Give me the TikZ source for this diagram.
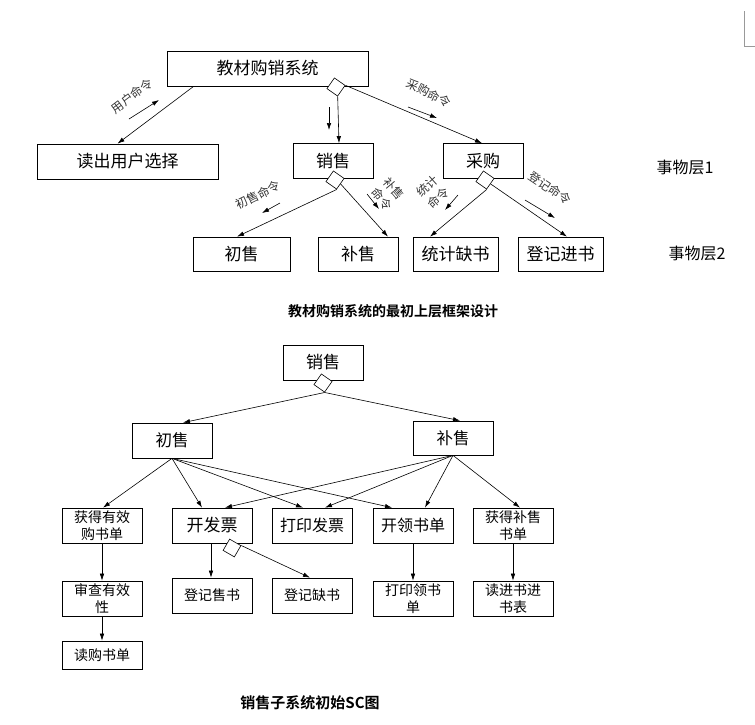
\documentclass[tikz,border=0pt]{standalone}
\usepackage{fontspec}
\setmainfont{Noto Sans CJK SC}[BoldFont={Noto Sans CJK SC Bold}]
\usetikzlibrary{arrows.meta}

\begin{document}
\begin{tikzpicture}[x=1pt, y=-1pt,
    box/.style={draw, line width=0.7pt, minimum width=80pt, minimum height=35pt,
                inner sep=1pt, font=\fontsize{17}{20}\selectfont},
    smallbox/.style={box, align=center, font=\fontsize{14}{17}\selectfont},
    flag/.style={draw, fill=white, line width=0.6pt, minimum size=13pt,
                 inner sep=0pt, rotate=#1},
    flag/.default=55,
    link/.style={-{Latex[length=7pt,width=4.5pt]}, line width=0.6pt},
    cmd/.style={font=\fontsize{12}{16}\selectfont, text=black!80, inner sep=0pt, align=center},
    layer/.style={font=\fontsize{16}{18}\selectfont},
    caption/.style={font=\fontsize{14}{16}\selectfont\bfseries}]
  \useasboundingbox (0,0) rectangle (755,724);

  % top frame
  \node[box, minimum width=201pt] (sys) at (267.5,68.5) {教材购销系统};
  \node[box, minimum width=181pt] (readsel) at (127.5,161.5) {读出用户选择};
  \node[box] (sale) at (333,161) {销售};
  \node[box] (purch) at (483,161) {采购};
  \node[box, minimum width=97pt, minimum height=34pt] (first) at (241.5,254) {初售};
  \node[box, minimum height=34pt] (resale) at (358,254) {补售};
  \node[box, minimum width=85pt, minimum height=34pt] (stat) at (455.5,254) {统计缺书};
  \node[box, minimum width=85pt, minimum height=34pt] (reg) at (560.5,254) {登记进书};

  \node[flag] (sysflag) at (336,87) {};
  \node[flag] (saleflag) at (335,180) {};
  \node[flag] (purchflag) at (485,180) {};

  \draw[link] ([xshift=27pt]sys.south west) -- ([xshift=-10pt]readsel.north);
  \draw[link] (sysflag.south west) -- ([xshift=6pt]sale.north);
  \draw[link] (sysflag.south east) -- ([xshift=-1pt]purch.north);
  \draw[link] (saleflag.south west) -- ([xshift=-4.5pt]first.north);
  \draw[link] (saleflag.south) -- ([xshift=30pt]resale.north);
  \draw[link] (purchflag.south west) -- ([xshift=-25.5pt]stat.north);
  \draw[link] (purchflag.south) -- ([xshift=6.5pt]reg.north);

  \node[cmd, rotate=37] (userlbl) at (132,96) {用户命令};
  \node[cmd, rotate=-26] (purchlbl) at (429,93) {采购命令};
  \node[cmd, rotate=26] (firstlbl) at (258,195) {初售命令};
  \node[cmd, rotate=-50] (relbl) at (388,194) {补售\\命令};
  \node[cmd, rotate=42] (statlbl) at (433,192) {统计\\命令};
  \node[cmd, rotate=-34] (reglbl) at (550,188) {登记命令};

  % direction marks
  \draw[link] (129,119) -- (159,100);
  \draw[link] (329,107) -- (329,130);
  \draw[link] (408,107) -- (437,118);
  \draw[link] (280,203) -- (262,213);
  \draw[link] (367,194) -- (379,209);
  \draw[link] (458,195) -- (445,210);
  \draw[link] (525,200) -- (555,218);

  \node[layer] (layer1) at (685,167) {事物层1};
  \node[layer] (layer2) at (697,253) {事物层2};
  \node[caption] (cap1) at (393,311) {教材购销系统的最初上层框架设计};

  \draw[black!40, line width=0.5pt] (744,11) -- (744,46) -- (755,46);

  % sales subsystem
  \node[box] (sale2) at (323,362.5) {销售};
  \node[box, font=\fontsize{16.5}{20}\selectfont] (first2) at (172,440.5) {初售};
  \node[box, minimum height=34pt, font=\fontsize{16.5}{20}\selectfont] (resale2) at (453,438) {补售};
  \node[smallbox] (getvalid) at (102,525.5) {获得有效\\购书单};
  \node[box] (invoice) at (212,525.5) {开发票};
  \node[box, font=\fontsize{16}{20}\selectfont] (printinv) at (312,525.5) {打印发票};
  \node[box, font=\fontsize{16}{20}\selectfont] (issue) at (413,525.5) {开领书单};
  \node[smallbox] (getresale) at (513,525.5) {获得补售\\书单};
  \node[smallbox] (check) at (102,598.5) {审查有效\\性};
  \node[smallbox] (regsale) at (212,595.5) {登记售书};
  \node[smallbox] (regshort) at (312,595.5) {登记缺书};
  \node[smallbox] (printissue) at (413,598.5) {打印领书\\单};
  \node[smallbox] (readin) at (513,598.5) {读进书进\\书表};
  \node[smallbox, minimum height=28pt] (readbuy) at (102,655) {读购书单};

  \node[flag] (sale2flag) at (323,383) {};
  \node[flag=60] (invflag) at (232,548) {};

  \draw[link] (sale2flag.south west) -- ([xshift=11pt]first2.north);
  \draw[link] (sale2flag.south west) -- ([xshift=7pt]resale2.north);

  \draw[link] (first2.south) -- ([xshift=1pt]getvalid.north);
  \draw[link] (first2.south) -- ([xshift=-10pt]invoice.north);
  \draw[link] (first2.south) -- ([xshift=-9pt]printinv.north);
  \draw[link] (first2.south) -- ([xshift=-21pt]issue.north);
  \draw[link] (resale2.south) -- ([xshift=13pt]invoice.north);
  \draw[link] (resale2.south) -- ([xshift=13pt]printinv.north);
  \draw[link] (resale2.south) -- ([xshift=12pt]issue.north);
  \draw[link] (resale2.south) -- ([xshift=7pt]getresale.north);

  \draw[link] (getvalid) -- (check);
  \draw[link] (check) -- (readbuy);
  \draw[link] ([xshift=-1pt]invoice.south) -- ([xshift=-1pt]regsale.north);
  \draw[link] (invflag.south east) -- ([xshift=-2pt]regshort.north);
  \draw[link] (issue) -- (printissue);
  \draw[link] (getresale) -- (readin);

  \node[caption, font=\fontsize{15}{17}\selectfont\bfseries] (cap2) at (310,703) {销售子系统初始SC图};
\end{tikzpicture}
\end{document}
